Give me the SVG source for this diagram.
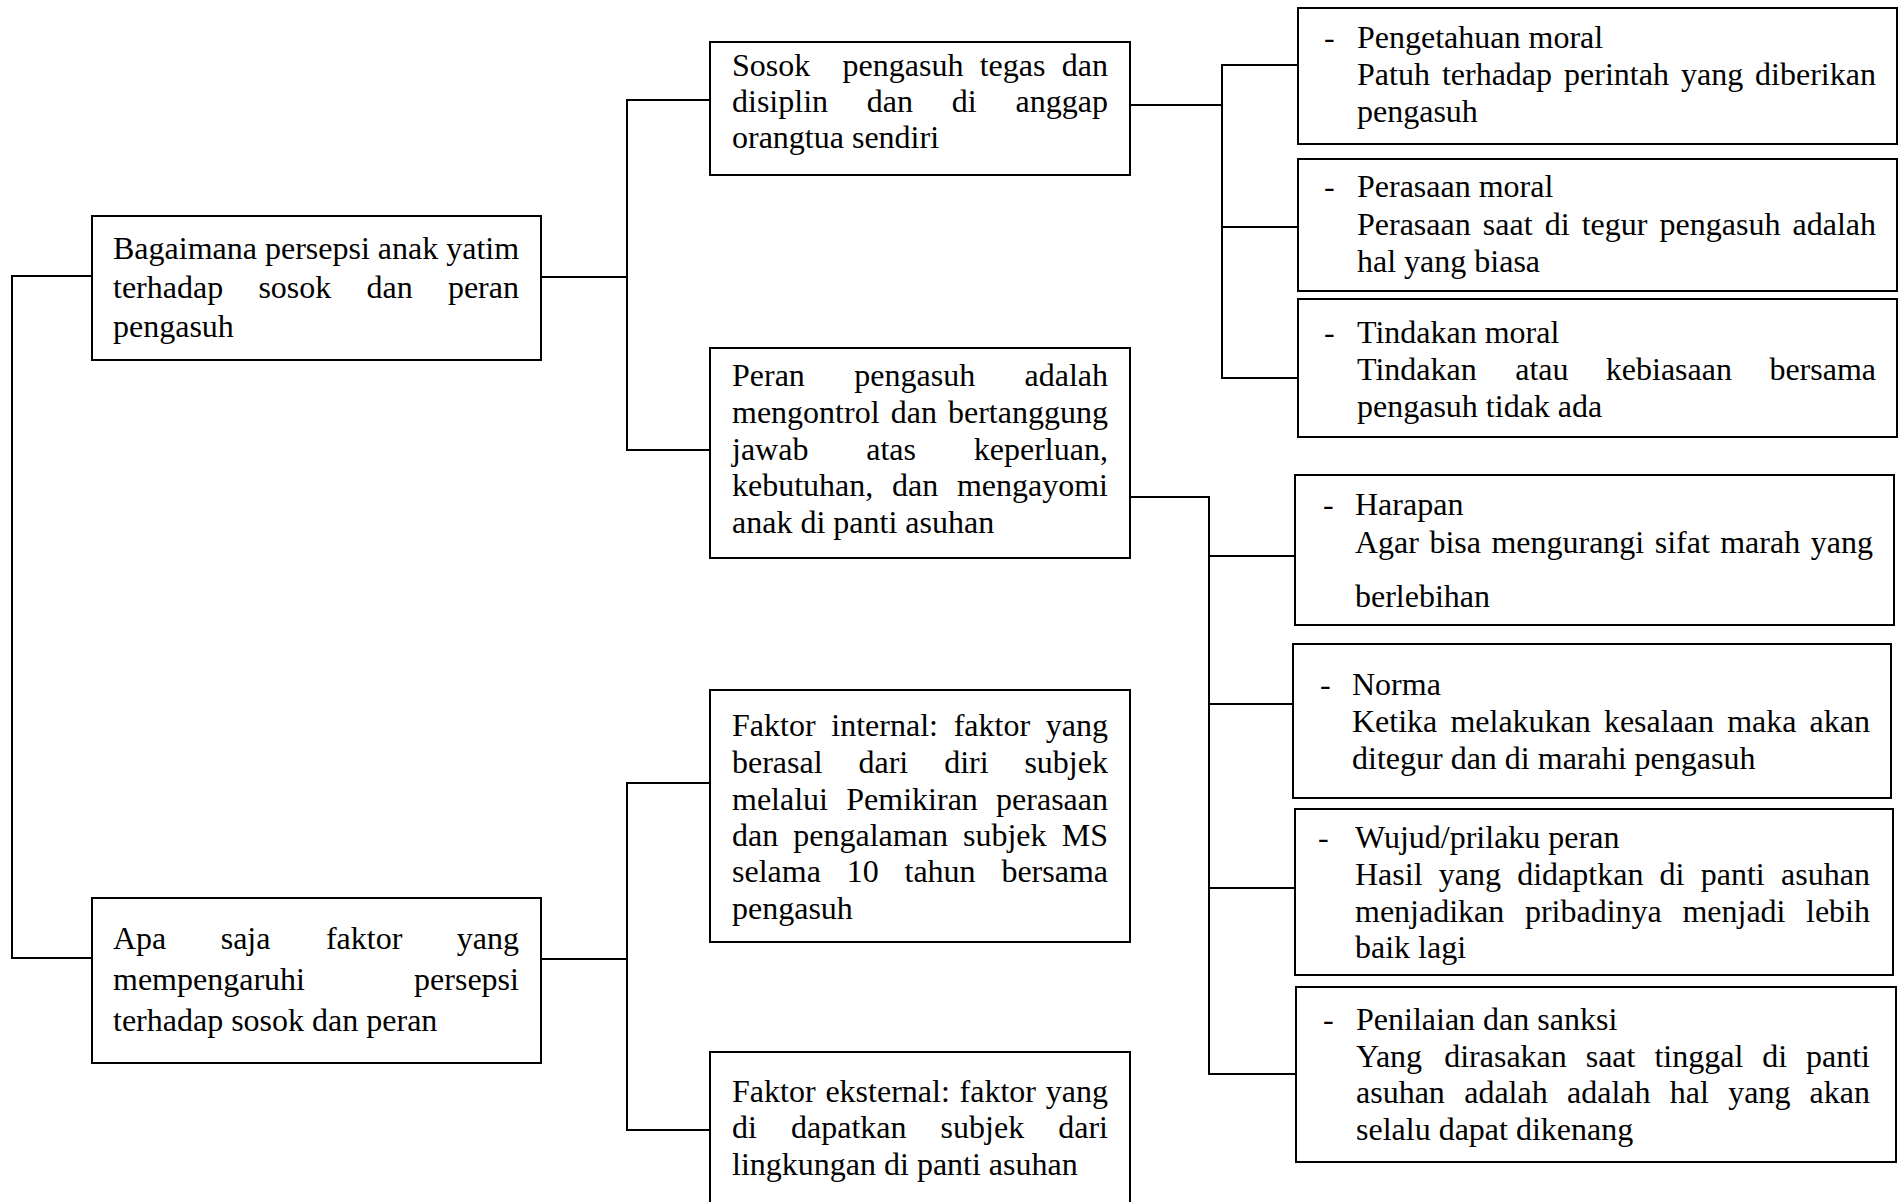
<svg xmlns="http://www.w3.org/2000/svg" width="1901" height="1202" viewBox="0 0 1901 1202">
<style>
.box{fill:#fff;stroke:#000;stroke-width:2}
.c{fill:none;stroke:#000;stroke-width:2}
.t{font-family:"Liberation Serif","Times New Roman",serif;font-size:32px;fill:#000}
</style>
<rect width="1901" height="1202" fill="#fff"/>
<g id="connectors">
<path class="c" d="M92,276 H12 V958 H92"/>
<path class="c" d="M541,277 H627"/>
<path class="c" d="M710,100 H627 V450 H710"/>
<path class="c" d="M541,959 H627"/>
<path class="c" d="M710,783 H627 V1130 H710"/>
<path class="c" d="M1130,105 H1222"/>
<path class="c" d="M1298,65 H1222 V378 H1298"/>
<path class="c" d="M1222,227 H1298"/>
<path class="c" d="M1130,497 H1209 V1074 H1296"/>
<path class="c" d="M1209,556 H1295"/>
<path class="c" d="M1209,704 H1293"/>
<path class="c" d="M1209,888 H1295"/>
</g>
<g id="q1">
<rect class="box" x="92" y="216" width="449" height="144"/>
<text class="t"><tspan x="113" y="259">Bagaimana persepsi anak yatim</tspan><tspan x="113" y="298">terhadap</tspan><tspan x="258.4" y="298">sosok</tspan><tspan x="366.5" y="298">dan</tspan><tspan x="447.9" y="298">peran</tspan><tspan x="113" y="337">pengasuh</tspan></text>
</g>
<g id="q2">
<rect class="box" x="92" y="898" width="449" height="165"/>
<text class="t"><tspan x="113" y="949">Apa</tspan><tspan x="220.7" y="949">saja</tspan><tspan x="325.9" y="949">faktor</tspan><tspan x="456.8" y="949">yang</tspan><tspan x="113" y="990">mempengaruhi</tspan><tspan x="414.1" y="990">persepsi</tspan><tspan x="113" y="1031">terhadap sosok dan peran</tspan></text>
</g>
<g id="sosok">
<rect class="box" x="710" y="42" width="420" height="133"/>
<text class="t"><tspan x="732" y="76">Sosok</tspan><tspan x="842.6" y="76">pengasuh</tspan><tspan x="979.7" y="76">tegas</tspan><tspan x="1061.8" y="76">dan</tspan><tspan x="732" y="112">disiplin</tspan><tspan x="866.8" y="112">dan</tspan><tspan x="951.8" y="112">di</tspan><tspan x="1015.6" y="112">anggap</tspan><tspan x="732" y="148">orangtua sendiri</tspan></text>
</g>
<g id="peran">
<rect class="box" x="710" y="348" width="420" height="210"/>
<text class="t"><tspan x="732" y="386">Peran</tspan><tspan x="854.3" y="386">pengasuh</tspan><tspan x="1024.5" y="386">adalah</tspan><tspan x="732" y="423">mengontrol</tspan><tspan x="890.7" y="423">dan</tspan><tspan x="948" y="423">bertanggung</tspan><tspan x="732" y="460">jawab</tspan><tspan x="866.2" y="460">atas</tspan><tspan x="973.8" y="460">keperluan,</tspan><tspan x="732" y="496">kebutuhan,</tspan><tspan x="892" y="496">dan</tspan><tspan x="956.9" y="496">mengayomi</tspan><tspan x="732" y="533">anak di panti asuhan</tspan></text>
</g>
<g id="internal">
<rect class="box" x="710" y="690" width="420" height="252"/>
<text class="t"><tspan x="732" y="736">Faktor</tspan><tspan x="831.3" y="736">internal:</tspan><tspan x="953.7" y="736">faktor</tspan><tspan x="1045.8" y="736">yang</tspan><tspan x="732" y="773">berasal</tspan><tspan x="858.5" y="773">dari</tspan><tspan x="944.2" y="773">diri</tspan><tspan x="1024.4" y="773">subjek</tspan><tspan x="732" y="810">melalui</tspan><tspan x="846.3" y="810">Pemikiran</tspan><tspan x="996.1" y="810">perasaan</tspan><tspan x="732" y="846">dan</tspan><tspan x="793.3" y="846">pengalaman</tspan><tspan x="963" y="846">subjek</tspan><tspan x="1061.8" y="846">MS</tspan><tspan x="732" y="882">selama</tspan><tspan x="846.7" y="882">10</tspan><tspan x="904.5" y="882">tahun</tspan><tspan x="1001.4" y="882">bersama</tspan><tspan x="732" y="919">pengasuh</tspan></text>
</g>
<g id="eksternal">
<rect class="box" x="710" y="1052" width="420" height="160"/>
<text class="t"><tspan x="732" y="1102">Faktor</tspan><tspan x="825.4" y="1102">eksternal:</tspan><tspan x="959.6" y="1102">faktor</tspan><tspan x="1045.8" y="1102">yang</tspan><tspan x="732" y="1138">di</tspan><tspan x="791" y="1138">dapatkan</tspan><tspan x="940.6" y="1138">subjek</tspan><tspan x="1058.2" y="1138">dari</tspan><tspan x="732" y="1175">lingkungan di panti asuhan</tspan></text>
</g>
<g id="pengetahuan">
<rect class="box" x="1298" y="8" width="599" height="136"/>
<text class="t"><tspan x="1324" y="48">-</tspan><tspan x="1357" y="48">Pengetahuan moral</tspan><tspan x="1357" y="85">Patuh</tspan><tspan x="1441.9" y="85">terhadap</tspan><tspan x="1564.1" y="85">perintah</tspan><tspan x="1681" y="85">yang</tspan><tspan x="1755.1" y="85">diberikan</tspan><tspan x="1357" y="122">pengasuh</tspan></text>
</g>
<g id="perasaan">
<rect class="box" x="1298" y="159" width="599" height="132"/>
<text class="t"><tspan x="1324" y="197">-</tspan><tspan x="1357" y="197">Perasaan moral</tspan><tspan x="1357" y="235">Perasaan</tspan><tspan x="1482.8" y="235">saat</tspan><tspan x="1544.7" y="235">di</tspan><tspan x="1581.7" y="235">tegur</tspan><tspan x="1659.6" y="235">pengasuh</tspan><tspan x="1792.5" y="235">adalah</tspan><tspan x="1357" y="272">hal yang biasa</tspan></text>
</g>
<g id="tindakan">
<rect class="box" x="1298" y="299" width="599" height="138"/>
<text class="t"><tspan x="1324" y="343">-</tspan><tspan x="1357" y="343">Tindakan moral</tspan><tspan x="1357" y="380">Tindakan</tspan><tspan x="1515.2" y="380">atau</tspan><tspan x="1605.8" y="380">kebiasaan</tspan><tspan x="1769.4" y="380">bersama</tspan><tspan x="1357" y="417">pengasuh tidak ada</tspan></text>
</g>
<g id="harapan">
<rect class="box" x="1295" y="475" width="599" height="150"/>
<text class="t"><tspan x="1323" y="515">-</tspan><tspan x="1355" y="515">Harapan</tspan><tspan x="1355" y="553">Agar</tspan><tspan x="1429.4" y="553">bisa</tspan><tspan x="1491.4" y="553">mengurangi</tspan><tspan x="1654.7" y="553">sifat</tspan><tspan x="1720.2" y="553">marah</tspan><tspan x="1810.8" y="553">yang</tspan><tspan x="1355" y="607">berlebihan</tspan></text>
</g>
<g id="norma">
<rect class="box" x="1293" y="644" width="598" height="154"/>
<text class="t"><tspan x="1320" y="695">-</tspan><tspan x="1352" y="695">Norma</tspan><tspan x="1352" y="732">Ketika</tspan><tspan x="1450.4" y="732">melakukan</tspan><tspan x="1603.9" y="732">kesalaan</tspan><tspan x="1727.2" y="732">maka</tspan><tspan x="1809.6" y="732">akan</tspan><tspan x="1352" y="769">ditegur dan di marahi pengasuh</tspan></text>
</g>
<g id="wujud">
<rect class="box" x="1295" y="809" width="598" height="166"/>
<text class="t"><tspan x="1318" y="848">-</tspan><tspan x="1355" y="848">Wujud/prilaku peran</tspan><tspan x="1355" y="885">Hasil</tspan><tspan x="1438.8" y="885">yang</tspan><tspan x="1517.2" y="885">didaptkan</tspan><tspan x="1659.6" y="885">di</tspan><tspan x="1700.7" y="885">panti</tspan><tspan x="1781.1" y="885">asuhan</tspan><tspan x="1355" y="922">menjadikan</tspan><tspan x="1524.9" y="922">pribadinya</tspan><tspan x="1682.4" y="922">menjadi</tspan><tspan x="1806" y="922">lebih</tspan><tspan x="1355" y="958">baik lagi</tspan></text>
</g>
<g id="penilaian">
<rect class="box" x="1296" y="987" width="600" height="175"/>
<text class="t"><tspan x="1323" y="1030">-</tspan><tspan x="1356" y="1030">Penilaian dan sanksi</tspan><tspan x="1356" y="1067">Yang</tspan><tspan x="1444.2" y="1067">dirasakan</tspan><tspan x="1585.7" y="1067">saat</tspan><tspan x="1654.4" y="1067">tinggal</tspan><tspan x="1762.2" y="1067">di</tspan><tspan x="1806" y="1067">panti</tspan><tspan x="1356" y="1103">asuhan</tspan><tspan x="1464.2" y="1103">adalah</tspan><tspan x="1567" y="1103">adalah</tspan><tspan x="1669.8" y="1103">hal</tspan><tspan x="1728.2" y="1103">yang</tspan><tspan x="1809.6" y="1103">akan</tspan><tspan x="1356" y="1140">selalu dapat dikenang</tspan></text>
</g>
</svg>
